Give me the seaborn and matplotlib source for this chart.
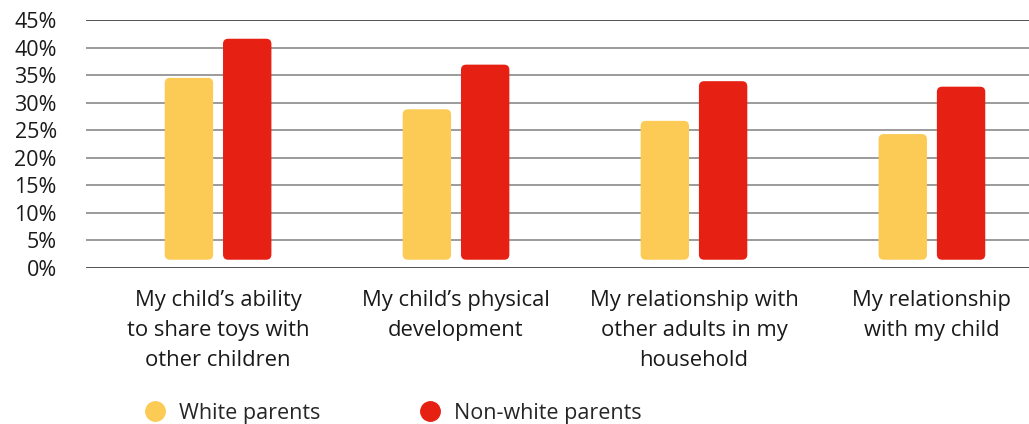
import numpy as np
import pandas as pd
import matplotlib
matplotlib.use("Agg")
import matplotlib.pyplot as plt
import seaborn as sns
from matplotlib.patches import FancyBboxPatch
from matplotlib.lines import Line2D

# data
items = [
    "My child\u2019s ability\nto share toys with\nother children",
    "My child\u2019s physical\ndevelopment",
    "My relationship with\nother adults in my\nhousehold",
    "My relationship\nwith my child",
]
groups = ["White parents", "Non-white parents"]
white_pct = [34.5, 28.8, 26.7, 24.3]
nonwhite_pct = [41.6, 36.9, 33.9, 32.9]
yticks = [0, 5, 10, 15, 20, 25, 30, 35, 40, 45]

colors = ["#FCCB55", "#E62114"]

df = pd.DataFrame({
    "item": items * 2,
    "group": [groups[0]] * 4 + [groups[1]] * 4,
    "pct": white_pct + nonwhite_pct,
})

sns.set_style("white")
plt.rcParams["font.family"] = ["Open Sans", "DejaVu Sans"]

fig = plt.figure(figsize=(10.29, 4.24), dpi=100)
ax = fig.add_axes([86 / 1029, 1 - 268 / 424, 1 - 86 / 1029, 248 / 424])

sns.barplot(data=df, x="item", y="pct", hue="group", palette=colors,
            saturation=1, width=0.49, gap=0.17, legend=False, ax=ax)

ax.set_ylim(0, 45)
ax.set_xlim(-0.555, 3.408)
ax.set_yticks(yticks)
ax.set_yticklabels([f"{t}%" for t in yticks])
ax.set_xlabel("")
ax.set_ylabel("")
for s in ax.spines.values():
    s.set_visible(False)

for t in yticks:
    c = "#333333" if t in (0, 45) else "#8a8a8a"
    ax.axhline(t, color=c, lw=1.2, zorder=0)

ax.tick_params(axis="y", length=0, pad=21, labelsize=15.5, labelcolor="#1a1a1a")
ax.tick_params(axis="x", length=0, pad=16, labelsize=15.8, labelcolor="#1a1a1a")
for lab in ax.get_xticklabels():
    lab.set_linespacing(1.56)
    lab.set_verticalalignment("top")

# swap plain bars for rounded ones, lifted a little off the baseline
fig.canvas.draw()
p0 = ax.transData.transform((0, 0))
p1 = ax.transData.transform((1, 1))
aspect = (p1[0] - p0[0]) / (p1[1] - p0[1])
base = 1.5
for p in list(ax.patches):
    x, w, h = p.get_x(), p.get_width(), p.get_height()
    fc = p.get_facecolor()
    p.remove()
    ax.add_patch(FancyBboxPatch((x, base), w, h - base,
                                boxstyle="round,pad=0,rounding_size=0.022",
                                mutation_aspect=aspect,
                                fc=fc, ec="none", zorder=3))

handles = [Line2D([], [], marker="o", ls="", ms=14, color=c) for c in colors]
fig.legend(handles, groups, loc="center left", bbox_to_anchor=(125 / 1029, 1 - 413 / 424),
           ncol=2, frameon=False, fontsize=15.5, handlelength=1.0, handletextpad=0.6,
           columnspacing=4.6)

fig.savefig("out.png", dpi=100)
